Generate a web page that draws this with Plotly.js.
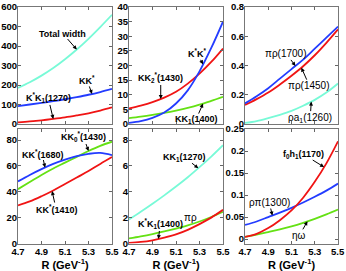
<!DOCTYPE html>
<html><head><meta charset="utf-8">
<script src="https://cdn.plot.ly/plotly-3.0.1.min.js"></script>
<style>html,body{margin:0;padding:0;background:#fff}#c{width:346px;height:271px}</style>
</head><body><div id="c"></div>
<script>
// Shared x grid (R in GeV^-1)
const R = [4.7, 4.8, 4.9, 5.0, 5.1, 5.2, 5.3, 5.4, 5.5];
const xTicks = [4.7, 4.9, 5.1, 5.3, 5.5];

// Panel 1
const p1_total = [185, 214, 248, 287, 332, 382, 437, 497, 560];
const p1_KKs = [92, 100, 108, 117, 127, 138, 150, 164, 180];
const p1_KsK1_1270 = [8, 13, 19, 26, 34, 44, 55, 69, 85];
// Panel 2
const p2_KsKs = [0.4, 1.0, 2.1, 3.9, 7.0, 11.5, 18, 26, 35];
const p2_KK2s_1430 = [5.3, 6.3, 7.5, 9.0, 11.0, 13.8, 17.2, 21.2, 25.8];
const p2_KK1_1400 = [2.0, 2.5, 3.1, 3.8, 4.6, 5.5, 6.6, 7.9, 9.3];
// Panel 3
const p3_pirho_1700 = [0.141, 0.19, 0.245, 0.31, 0.375, 0.44, 0.515, 0.59, 0.666];
const p3_pirho_1450 = [0.13, 0.17, 0.215, 0.27, 0.33, 0.395, 0.47, 0.555, 0.647];
const p3_rhoa1_1260 = [0.007, 0.02, 0.04, 0.063, 0.09, 0.125, 0.165, 0.215, 0.277];
// Panel 4
const p4_KKs_1680 = [48, 53, 57.5, 61.5, 64.8, 67.5, 69.3, 70, 68.3];
const p4_KK0s_1430 = [42, 47.5, 53, 58, 62.5, 67, 71.5, 75.5, 78.7];
const p4_KKs_1410 = [29.5, 32.5, 36.5, 41, 46, 51, 56, 61.5, 66.8];
// Panel 5
const p5_KK1_1270 = [1.85, 2.45, 3.07, 3.72, 4.4, 5.12, 5.9, 6.72, 7.6];
const p5_pirho = [0.39, 0.55, 0.73, 0.93, 1.15, 1.4, 1.7, 2.05, 2.45];
const p5_KsK1_1400 = [0.05, 0.12, 0.25, 0.45, 0.7, 1.05, 1.5, 2.0, 2.6];
// Panel 6
const p6_f0h1_1170 = [0.005, 0.012, 0.025, 0.043, 0.065, 0.094, 0.13, 0.172, 0.222];
const p6_rhopi_1300 = [0.032, 0.04, 0.05, 0.06, 0.071, 0.083, 0.096, 0.11, 0.126];
const p6_etaomega = [0.005, 0.01, 0.016, 0.022, 0.029, 0.037, 0.046, 0.056, 0.067];

const BLUE = 'rgb(35,60,255)', RED = 'rgb(240,20,20)', GREEN = 'rgb(100,225,20)', CYAN = 'rgb(120,250,215)';

function tr(y, color, n) {
  const s = n === 1 ? '' : String(n);
  return {x: R, y: y, type: 'scatter', mode: 'lines', line: {color: color, width: 1.8, shape: 'spline'},
          xaxis: 'x' + s, yaxis: 'y' + s, showlegend: false, hoverinfo: 'skip'};
}
const data = [
  tr(p1_total, CYAN, 1), tr(p1_KKs, BLUE, 1), tr(p1_KsK1_1270, RED, 1),
  tr(p2_KK1_1400, GREEN, 2), tr(p2_KK2s_1430, RED, 2), tr(p2_KsKs, BLUE, 2),
  tr(p3_rhoa1_1260, CYAN, 3), tr(p3_pirho_1450, RED, 3), tr(p3_pirho_1700, BLUE, 3),
  tr(p4_KKs_1410, RED, 4), tr(p4_KK0s_1430, GREEN, 4), tr(p4_KKs_1680, BLUE, 4),
  tr(p5_KK1_1270, CYAN, 5), tr(p5_pirho, GREEN, 5), tr(p5_KsK1_1400, RED, 5),
  tr(p6_etaomega, GREEN, 6), tr(p6_rhopi_1300, BLUE, 6), tr(p6_f0h1_1170, RED, 6)
];

function interp(arr, x) {
  for (let i = 0; i < R.length - 1; i++) {
    if (x >= R[i] && x <= R[i + 1]) {
      const t = (x - R[i]) / (R[i + 1] - R[i]);
      return arr[i] + t * (arr[i + 1] - arr[i]);
    }
  }
  return arr[arr.length - 1];
}
const FONT = 'Liberation Sans, Arial, sans-serif';
function ann(n, text, x, arr, ax, ay, greek) {
  const s = n === 1 ? '' : String(n);
  return {xref: 'x' + s, yref: 'y' + s, x: x, y: interp(arr, x), text: text, showarrow: true,
          ax: ax, ay: ay, arrowhead: 2, arrowsize: 0.8, arrowwidth: 1, arrowcolor: '#000',
          font: {family: FONT, size: greek ? 10 : 9, color: '#000', weight: greek ? 'normal' : 'bold'},
          borderpad: 0};
}
const tickfont = {family: FONT, size: 9.5, color: '#000', weight: 'bold'};
const xDom = [[18/346, 112/346], [129/346, 223/346], [245/346, 338/346]];
const lastTick = xTicks[xTicks.length - 1];
const annotations = [
  ann(1, 'Total width', 5.2, p1_total, -14, -16),
  ann(1, 'KK<sup>*</sup>', 5.33, p1_KKs, -5, -14),
  ann(1, 'K<sup>*</sup>K<sub>1</sub>(1270)', 5.0, p1_KsK1_1270, -5, -21),
  ann(2, 'K<sup>*</sup>K<sup>*</sup>', 5.33, p2_KsKs, -6, -11),
  ann(2, 'KK<sub>2</sub><sup>*</sup>(1430)', 4.97, p2_KK2s_1430, 0, -21),
  ann(2, 'KK<sub>1</sub>(1400)', 5.33, p2_KK1_1400, -7, 16),
  ann(3, 'πρ(1700)', 5.134, p3_pirho_1700, -9, -12, true),
  ann(3, 'πρ(1450)', 5.185, p3_pirho_1450, 8, 18, true),
  ann(3, 'ρa<sub>1</sub>(1260)', 5.27, p3_rhoa1_1260, -1, 16, true),
  ann(4, 'KK<sub>0</sub><sup>*</sup>(1430)', 5.3, p4_KK0s_1430, -5, -14),
  ann(4, 'KK<sup>*</sup>(1680)', 4.93, p4_KKs_1680, -3, -14),
  ann(4, 'KK<sup>*</sup>(1410)', 4.99, p4_KKs_1410, 4, 18),
  ann(5, 'KK<sub>1</sub>(1270)', 5.29, p5_KK1_1270, -14, -11),
  ann(5, 'K<sup>*</sup>K<sub>1</sub>(1400)', 4.95, p5_KsK1_1400, 2, -15),
  ann(5, 'πρ', 5.24, p5_pirho, -2, -6, true),
  ann(6, 'f<sub>0</sub>h<sub>1</sub>(1170)', 5.38, p6_f0h1_1170, -21, -13),
  ann(6, 'ρπ(1300)', 4.935, p6_rhopi_1300, -3, -13, true),
  ann(6, 'ηω', 5.237, p6_etaomega, -8, 14, true),
  // last tick label of the right-hand bottom axis, placed at that axis' right end
  {xref: 'paper', yref: 'paper', x: xDom[2][1], y: 1 - 251/271, yanchor: 'middle', xanchor: 'center',
   text: lastTick.toFixed(1), showarrow: false, font: tickfont, borderpad: 0}
];

const yTop = [1 - 124/271, 1 - 7/271], yBot = [1 - 243.5/271, 1 - 129/271];
function xa(col, bottom, vals) {
  const o = {domain: xDom[col], range: [4.7, 5.5], tickvals: vals, ticktext: vals.map(v => v.toFixed(1)),
    ticks: 'inside', ticklen: 3,
    tickcolor: '#666', showline: true, linecolor: '#777', linewidth: 1, mirror: 'ticks', showgrid: false, zeroline: false,
    showticklabels: bottom, tickfont: tickfont, ticklabelstandoff: -1, ticklabeloverflow: 'allow'};
  if (bottom) o.title = {text: 'R (GeV<sup>-1</sup>)', font: {family: FONT, size: 11, color: '#000', weight: 'bold'}, standoff: 3};
  return o;
}
function ya(dom, range, dtick) {
  return {domain: dom, range: range, dtick: dtick, tick0: 0, ticks: 'inside', ticklen: 3, tickcolor: '#666',
    showline: true, linecolor: '#777', linewidth: 1, mirror: 'ticks', showgrid: false, zeroline: false, tickfont: tickfont,
    ticklabelstandoff: -2, ticklabeloverflow: 'allow'};
}
const layout = {
  width: 346, height: 271, margin: {l: 0, r: 0, t: 0, b: 0}, paper_bgcolor: '#fff', plot_bgcolor: '#fff',
  showlegend: false, annotations: annotations,
  xaxis: Object.assign(xa(0, false, xTicks), {anchor: 'y'}), yaxis: Object.assign(ya(yTop, [0, 600], 100), {anchor: 'x'}),
  xaxis2: Object.assign(xa(1, false, xTicks), {anchor: 'y2'}), yaxis2: Object.assign(ya(yTop, [0, 40], 5), {anchor: 'x2'}),
  xaxis3: Object.assign(xa(2, false, xTicks), {anchor: 'y3'}), yaxis3: Object.assign(ya(yTop, [0, 0.8], 0.2), {anchor: 'x3'}),
  xaxis4: Object.assign(xa(0, true, xTicks), {anchor: 'y4'}), yaxis4: Object.assign(ya(yBot, [0, 88.5], 20), {anchor: 'x4'}),
  xaxis5: Object.assign(xa(1, true, xTicks), {anchor: 'y5'}), yaxis5: Object.assign(ya(yBot, [0, 8.85], 2), {anchor: 'x5'}),
  xaxis6: Object.assign(xa(2, true, xTicks.slice(0, -1)), {anchor: 'y6'}), yaxis6: Object.assign(ya(yBot, [-0.01, 0.25], 0.05), {anchor: 'x6'})
};
Plotly.newPlot('c', data, layout, {staticPlot: true, displayModeBar: false});
</script></body></html>
